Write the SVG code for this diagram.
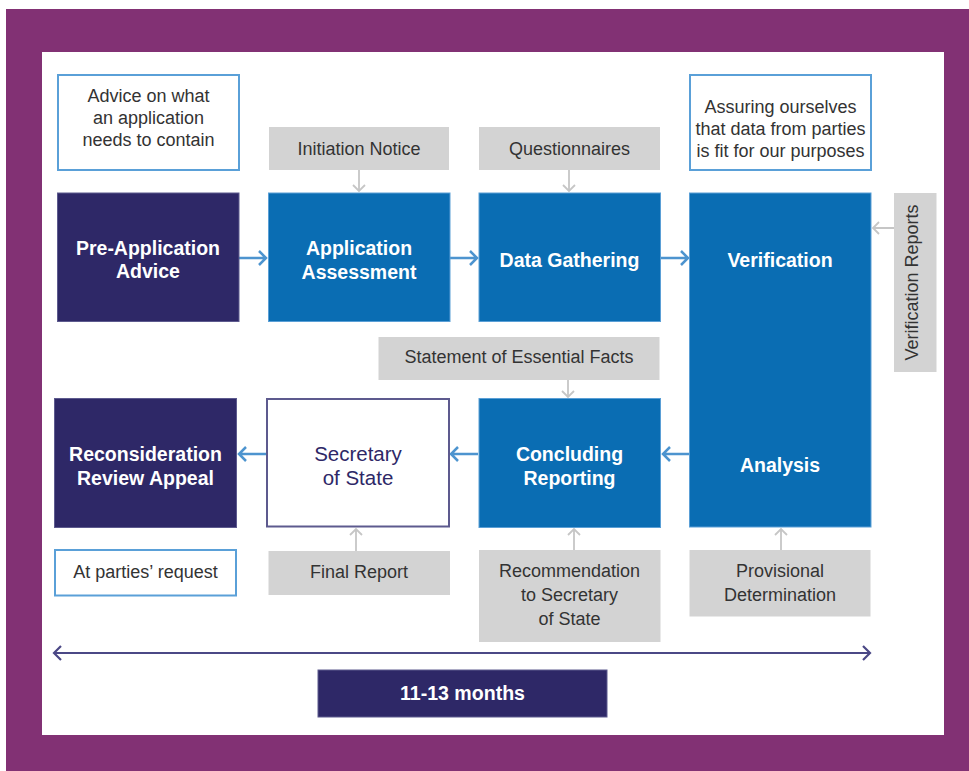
<svg xmlns="http://www.w3.org/2000/svg" width="969" height="771" viewBox="0 0 969 771">
<style>
.navy{fill:#2e2867;stroke:#5d5a8e;stroke-width:1}
.blue{fill:#0a6db3;stroke:#5a9fd6;stroke-width:1}
.gray{fill:#d3d3d3}
.note{fill:#fff;stroke:#5aa0d8;stroke-width:2}
.sos{fill:#fff;stroke:#5d5a8e;stroke-width:2}
.bt{font-family:"Liberation Sans",Arial,sans-serif;font-weight:bold;font-size:19.5px;fill:#fff;text-anchor:middle}
.lt{font-family:"Liberation Sans",Arial,sans-serif;font-size:18px;fill:#333;text-anchor:middle}
.st{font-family:"Liberation Sans",Arial,sans-serif;font-size:20.5px;fill:#2e2867;text-anchor:middle}
.ba{stroke:#4d94cf;stroke-width:2.5;fill:none}
.ga{stroke:#c6c6c6;stroke-width:1.8;fill:none}
.da{stroke:#4b4886;stroke-width:2.2;fill:none}
</style>
<rect x="0" y="0" width="969" height="771" fill="#fff"/>
<rect x="6" y="9" width="963" height="762" fill="#823174"/>
<rect x="42" y="52" width="902" height="683" fill="#fff"/>

<g id="connectors">
  <!-- blue flow arrows -->
  <path class="ba" d="M239,258 H266 M259,251 L266,258 L259,265"/>
  <path class="ba" d="M450,258 H477 M470,251 L477,258 L470,265"/>
  <path class="ba" d="M661,258 H688 M681,251 L688,258 L681,265"/>
  <path class="ba" d="M689,454 H663 M670,447 L663,454 L670,461"/>
  <path class="ba" d="M478,454 H451 M458,447 L451,454 L458,461"/>
  <path class="ba" d="M267,454 H239 M246,447 L239,454 L246,461"/>
  <!-- gray input arrows -->
  <path class="ga" d="M359,170 V191 M353,185 L359,191 L365,185"/>
  <path class="ga" d="M569,170 V191 M563,185 L569,191 L575,185"/>
  <path class="ga" d="M894,228 H873 M879,222 L873,228 L879,234"/>
  <path class="ga" d="M568,380 V397 M562,391 L568,397 L574,391"/>
  <path class="ga" d="M574,550 V529 M568,535 L574,529 L580,535"/>
  <path class="ga" d="M781,550 V529 M775,535 L781,529 L787,535"/>
  <path class="ga" d="M356,551 V529 M350,535 L356,529 L362,535"/>
  <!-- timeline -->
  <path class="da" d="M54,653 H870 M61,646 L54,653 L61,660 M863,646 L870,653 L863,660"/>
</g>

<g id="advice-note">
  <rect class="note" x="58" y="75" width="181" height="95"/>
  <text class="lt" x="148.5" y="102">Advice on what</text>
  <text class="lt" x="148.5" y="124">an application</text>
  <text class="lt" x="148.5" y="146">needs to contain</text>
</g>
<g id="initiation-notice">
  <rect class="gray" x="269" y="127" width="180" height="43"/>
  <text class="lt" x="359" y="155">Initiation Notice</text>
</g>
<g id="questionnaires">
  <rect class="gray" x="479" y="127" width="181" height="43"/>
  <text class="lt" x="569.5" y="155">Questionnaires</text>
</g>
<g id="assuring-note">
  <rect class="note" x="690" y="75" width="181" height="95"/>
  <text class="lt" x="780.5" y="113">Assuring ourselves</text>
  <text class="lt" x="780.5" y="135">that data from parties</text>
  <text class="lt" x="780.5" y="157">is fit for our purposes</text>
</g>
<g id="pre-application">
  <rect class="navy" x="57.5" y="193" width="181.5" height="128.5"/>
  <text class="bt" x="148" y="255">Pre-Application</text>
  <text class="bt" x="148" y="278">Advice</text>
</g>
<g id="application-assessment">
  <rect class="blue" x="268.5" y="193" width="181.5" height="128.5"/>
  <text class="bt" x="359" y="255">Application</text>
  <text class="bt" x="359" y="279">Assessment</text>
</g>
<g id="data-gathering">
  <rect class="blue" x="479" y="193" width="181.5" height="128.5"/>
  <text class="bt" x="569.5" y="267">Data Gathering</text>
</g>
<g id="verification-analysis">
  <rect class="blue" x="689.5" y="193" width="181.5" height="334"/>
  <text class="bt" x="780" y="267">Verification</text>
  <text class="bt" x="780" y="472">Analysis</text>
</g>
<g id="verification-reports">
  <rect class="gray" x="894" y="193" width="42.5" height="179"/>
  <text class="lt" transform="translate(918,282.5) rotate(-90)" x="0" y="0">Verification Reports</text>
</g>
<g id="statement-essential-facts">
  <rect class="gray" x="378.5" y="337" width="281" height="43"/>
  <text class="lt" x="519" y="363">Statement of Essential Facts</text>
</g>
<g id="reconsideration">
  <rect class="navy" x="54.5" y="398.5" width="182" height="129"/>
  <text class="bt" x="145.5" y="461">Reconsideration</text>
  <text class="bt" x="145.5" y="485">Review Appeal</text>
</g>
<g id="secretary-of-state">
  <rect class="sos" x="267" y="399" width="182" height="127.5"/>
  <text class="st" x="358" y="461">Secretary</text>
  <text class="st" x="358" y="485">of State</text>
</g>
<g id="concluding-reporting">
  <rect class="blue" x="479" y="398.5" width="181.5" height="129"/>
  <text class="bt" x="569.5" y="461">Concluding</text>
  <text class="bt" x="569.5" y="485">Reporting</text>
</g>
<g id="parties-request">
  <rect class="note" x="55" y="550" width="181" height="45.5"/>
  <text class="lt" x="145.5" y="578">At parties’ request</text>
</g>
<g id="final-report">
  <rect class="gray" x="268.5" y="551" width="181.5" height="44"/>
  <text class="lt" x="359" y="578">Final Report</text>
</g>
<g id="recommendation">
  <rect class="gray" x="479" y="550" width="181.5" height="92"/>
  <text class="lt" x="569.5" y="577">Recommendation</text>
  <text class="lt" x="569.5" y="601">to Secretary</text>
  <text class="lt" x="569.5" y="625">of State</text>
</g>
<g id="provisional-determination">
  <rect class="gray" x="689.5" y="550" width="181" height="66.5"/>
  <text class="lt" x="780" y="577">Provisional</text>
  <text class="lt" x="780" y="601">Determination</text>
</g>
<g id="duration">
  <rect class="navy" x="318" y="670" width="289" height="47"/>
  <text class="bt" x="462.5" y="700" font-size="20" textLength="125" lengthAdjust="spacingAndGlyphs">11-13 months</text>
</g>
</svg>
